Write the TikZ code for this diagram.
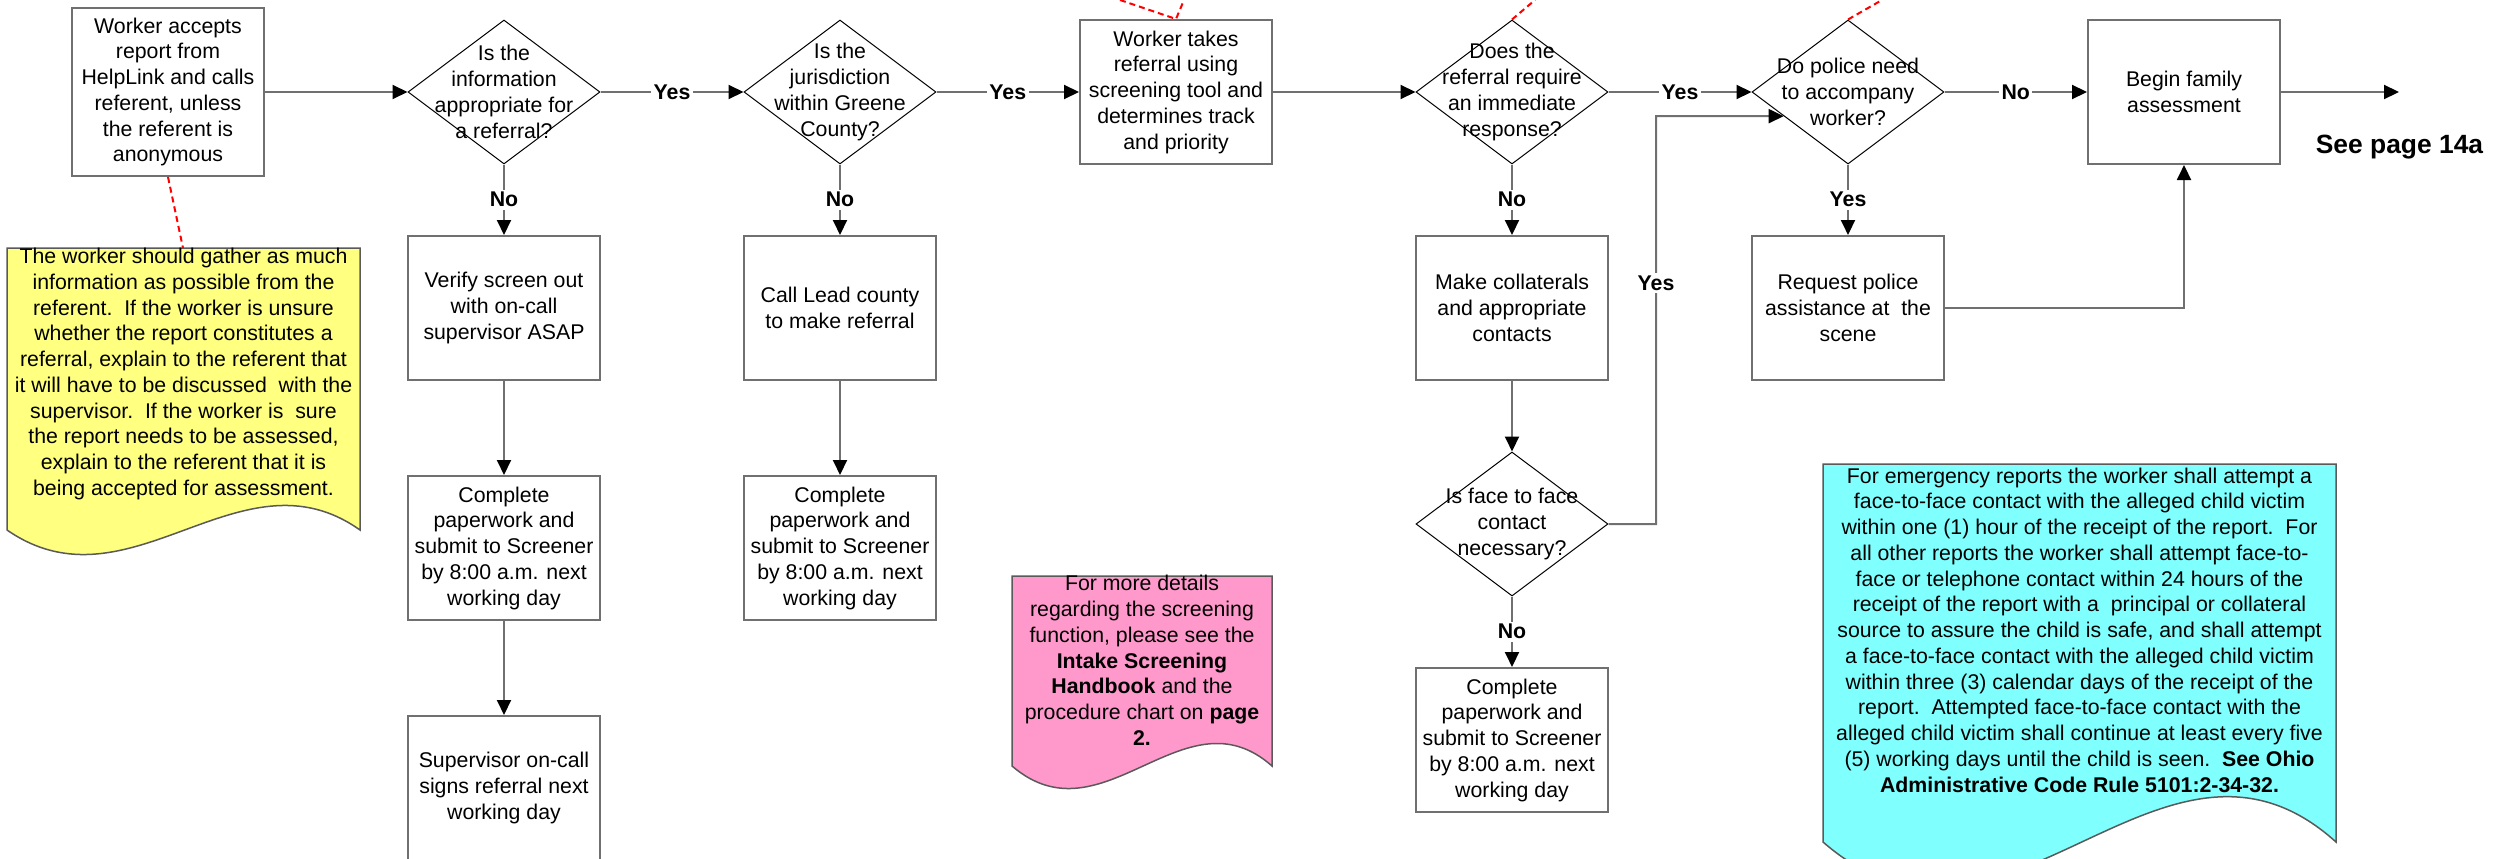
\documentclass[tikz,border=0pt]{standalone}
\usepackage{fontspec}
\setmainfont{Liberation Sans}
\usetikzlibrary{shapes.geometric,arrows.meta,calc}
\definecolor{linegray}{RGB}{112,112,112}
\definecolor{notegray}{RGB}{90,90,90}
\definecolor{noteyellow}{RGB}{255,255,128}
\definecolor{notepink}{RGB}{255,153,204}
\definecolor{notecyan}{RGB}{128,255,255}
\begin{document}
\begin{tikzpicture}[x=1bp,y=-1bp,
  every node/.style={font=\fontsize{21.3bp}{25.75bp}\selectfont},
  procbox/.style={draw=linegray, line width=2bp, minimum width=192bp, minimum height=144bp, inner sep=0pt, align=center},
  decision/.style={diamond, draw=black, line width=1bp, minimum width=192bp, minimum height=144bp, inner sep=0pt},
  dtext/.style={align=center, inner sep=0pt},
  conn/.style={draw=linegray, line width=2bp, -{Triangle[length=15bp,width=14bp,color=black]}},
  lbl/.style={fill=white, inner sep=2.5bp, font=\fontsize{21.3bp}{25.75bp}\selectfont\bfseries},
  notelink/.style={draw=red, line width=2bp, dash pattern=on 6bp off 4bp},
  notetext/.style={align=center, inner sep=0pt},
  notebox/.style={draw=notegray, line width=1.5bp}
]
\fill[white] (0,0) rectangle (2503,858);
\useasboundingbox (0,0) rectangle (2503,858);

% notes
\path[notebox, fill=noteyellow] (7,248) -- (360,248) -- (360,530) .. controls (240,445) and (130,615) .. (7,530) -- cycle;
\node[notetext] (yn) at (183.5,374) {The worker should gather as much\\information as possible from the\\referent.\ \ If the worker is unsure\\whether the report constitutes a\\referral, explain to the referent that\\it will have to be discussed\ \ with the\\supervisor.\ \ If the worker is\ \ sure\\the report needs to be assessed,\\explain to the referent that it is\\being accepted for assessment.};
\coordinate (yntop) at (183,248);

\path[notebox, fill=notepink] (1012,576) -- (1272,576) -- (1272,766) .. controls (1184,688) and (1103,844) .. (1012,766) -- cycle;
\node[notetext] (pn) at (1142,660.5) {For more details\\regarding the screening\\function, please see the\\\textbf{Intake Screening}\\\textbf{Handbook} and the\\procedure chart on \textbf{page}\\\textbf{2.}};

\path[notebox, fill=notecyan] (1823,464) -- (2336,464) -- (2336,842) .. controls (2162,685) and (2003,999) .. (1823,842) -- cycle;
\node[notetext] (cn) at (2079.5,630) {For emergency reports the worker shall attempt a\\face-to-face contact with the alleged child victim\\within one (1) hour of the receipt of the report.\ \ For\\all other reports the worker shall attempt face-to-\\face or telephone contact within 24 hours of the\\receipt of the report with a\ \ principal or collateral\\source to assure the child is safe, and shall attempt\\a face-to-face contact with the alleged child victim\\within three (3) calendar days of the receipt of the\\report.\ \ Attempted face-to-face contact with the\\alleged child victim shall continue at least every five\\(5) working days until the child is seen.\ \ \textbf{See Ohio}\\\textbf{Administrative Code Rule 5101:2-34-32.}};

% main row
\node[procbox, minimum height=168bp] (wa) at (168,92) {Worker accepts\\report from\\HelpLink and calls\\referent, unless\\the referent is\\anonymous};
\node[decision] (d1) at (504,92) {};
\node[dtext] (d1t) at (d1.center) {Is the\\information\\appropriate for\\a referral?};
\node[decision] (d2) at (840,92) {};
\node[dtext] (d2t) at (d2.center) {Is the\\jurisdiction\\within Greene\\County?};
\node[procbox] (wt) at (1176,92) {Worker takes\\referral using\\screening tool and\\determines track\\and priority};
\node[decision] (d3) at (1512,92) {};
\node[dtext] (d3t) at (d3.center) {Does the\\referral require\\an immediate\\response?};
\node[decision] (d4) at (1848,92) {};
\node[dtext] (d4t) at (d4.center) {Do police need\\to accompany\\worker?};
\node[procbox] (bf) at (2184,92) {Begin family\\assessment};
\coordinate (out) at (2399,92);
\node[inner sep=0pt, font=\fontsize{26.4bp}{30bp}\selectfont\bfseries] (see) at (2399.5,147) {See page 14a};

% lower nodes
\node[procbox] (vs) at (504,308) {Verify screen out\\with on-call\\supervisor ASAP};
\node[procbox] (c1) at (504,548) {Complete\\paperwork and\\submit to Screener\\by 8:00 a.m. next\\working day};
\node[procbox] (sv) at (504,788) {Supervisor on-call\\signs referral next\\working day};
\node[procbox] (cl) at (840,308) {Call Lead county\\to make referral};
\node[procbox] (c2) at (840,548) {Complete\\paperwork and\\submit to Screener\\by 8:00 a.m. next\\working day};
\node[procbox] (mc) at (1512,308) {Make collaterals\\and appropriate\\contacts};
\node[decision] (d5) at (1512,524) {};
\node[dtext] (d5t) at (d5.center) {Is face to face\\contact\\necessary?};
\node[procbox] (c3) at (1512,740) {Complete\\paperwork and\\submit to Screener\\by 8:00 a.m. next\\working day};
\node[procbox] (rp) at (1848,308) {Request police\\assistance at\ \ the\\scene};

% connectors
\draw[conn] (wa.east) -- (d1.west);
\draw[conn] (d1.east) -- node[lbl]{Yes} (d2.west);
\draw[conn] (d2.east) -- node[lbl]{Yes} (wt.west);
\draw[conn] (wt.east) -- (d3.west);
\draw[conn] (d3.east) -- node[lbl]{Yes} (d4.west);
\draw[conn] (d4.east) -- node[lbl]{No} (bf.west);
\draw[conn] (bf.east) -- (out);
\draw[conn] (d1.south) -- node[lbl]{No} (vs.north);
\draw[conn] (vs.south) -- (c1.north);
\draw[conn] (c1.south) -- (sv.north);
\draw[conn] (d2.south) -- node[lbl]{No} (cl.north);
\draw[conn] (cl.south) -- (c2.north);
\draw[conn] (d3.south) -- node[lbl]{No} (mc.north);
\draw[conn] (mc.south) -- (d5.north);
\draw[conn] (d5.south) -- node[lbl]{No} (c3.north);
\draw[conn] (d4.south) -- node[lbl]{Yes} (rp.north);
\coordinate (ye) at (1656,116);
\coordinate (d4in) at ($(d4.west)!1/3!(d4.south)$);
\draw[conn] (d5.east) -- (d5.east -| ye) -- node[lbl,pos=0.59]{Yes} (ye) -- (d4in);
\draw[conn] (rp.east) -| (bf.south);

% note links
\coordinate (r1) at (1120,0);
\coordinate (r2) at (1184,0);
\coordinate (r3) at (1535,0);
\coordinate (r4) at (1882,0);
\draw[notelink] (wa.south) -- (yntop);
\draw[notelink] (r1) -- (wt.north) -- (r2);
\draw[notelink] (d3.north) -- (r3);
\draw[notelink] (d4.north) -- (r4);
\end{tikzpicture}
\end{document}
